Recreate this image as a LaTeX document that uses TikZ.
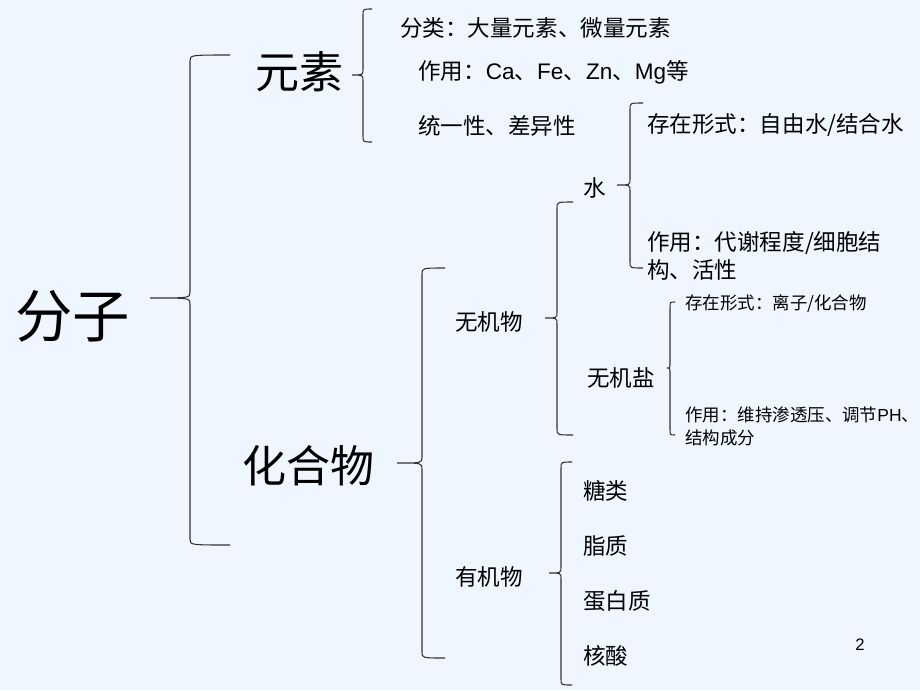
\documentclass[tikz,border=0pt]{standalone}
\usepackage{fontspec}
\setmainfont{Noto Sans CJK SC}
\newfontfamily\latfont{Liberation Sans}
\usepackage{tikz}
\definecolor{slidebg}{RGB}{239,246,255}
\tikzset{
    item/.style={anchor=west, inner sep=0pt, align=left, font=\fontsize{16.9}{21}\selectfont},
    smallitem/.style={item, font=\fontsize{13.1}{17.3}\selectfont},
    topic/.style={anchor=west, inner sep=0pt, font=\fontsize{33}{36}\selectfont},
    bracket/.style={draw=black!80, line width=0.8pt}
}
% left brace: vertical x, end x, top y, tip y, bottom y, tip x
\newcommand\curly[6]{%
    \draw[bracket] (#2,#3) .. controls (#1,#3) .. (#1,#3+6) -- (#1,#4-6)
        .. controls (#1,#4) .. (#6,#4) .. controls (#1,#4) .. (#1,#4+6)
        -- (#1,#5-6) .. controls (#1,#5) .. (#2,#5);}

\begin{document}
\begin{tikzpicture}[x=0.75pt, y=-0.75pt]
            \useasboundingbox (0,0) rectangle (920,690);
            \fill[slidebg] (0,0) rectangle (920,690);

            \node[topic, font=\fontsize{43}{46}\selectfont] (fenzi) at (15,316) {分子};
            \node[topic] (yuansu) at (255,72) {元素};
            \node[topic] (huahewu) at (242,466) {化合物};

            \node[item] (fenlei) at (400,28) {分类：大量元素、微量元素};
            \node[item] (zuoyong) at (418,72) {作用：{\latfont Ca}、{\latfont Fe}、{\latfont Zn}、{\latfont Mg}等};
            \node[item] (tongyi) at (418,126) {统一性、差异性};

            \node[item] (wujiwu) at (455,322) {无机物};
            \node[item] (youjiwu) at (455,577) {有机物};

            \node[item] (shui) at (583,188) {水};
            \node[item] (shuixingshi) at (647,125) {存在形式：自由水/结合水};
            \node[item] (shuizuoyong) at (647,256) {作用：代谢程度/细胞结\\构、活性};

            \node[item] (wujiyan) at (587,378) {无机盐};
            \node[smallitem] (yanxingshi) at (685,304) {存在形式：离子/化合物};
            \node[smallitem] (yanzuoyong) at (685,426) {作用：维持渗透压、调节{\latfont PH}、\\结构成分};

            \node[item] (tanglei) at (583,491) {糖类};
            \node[item] (zhizhi) at (583,546) {脂质};
            \node[item] (danbaizhi) at (583,601) {蛋白质};
            \node[item] (hesuan) at (583,656) {核酸};

            \node[font=\latfont\fontsize{12.5}{14}\selectfont, inner sep=0pt] (page) at (860,645) {2};

            \curly{190}{230}{55}{298}{545}{150}
            \curly{363}{372}{9}{75}{142}{352}
            \curly{422}{445}{268}{463}{658}{397}
            \curly{557}{573}{202}{318}{435}{545}
            \curly{561}{572}{462}{573}{685}{549}
            \curly{630}{643}{103}{185}{268}{617}
            \curly{670}{675}{302}{368}{435}{667}
        \end{tikzpicture}
\end{document}
